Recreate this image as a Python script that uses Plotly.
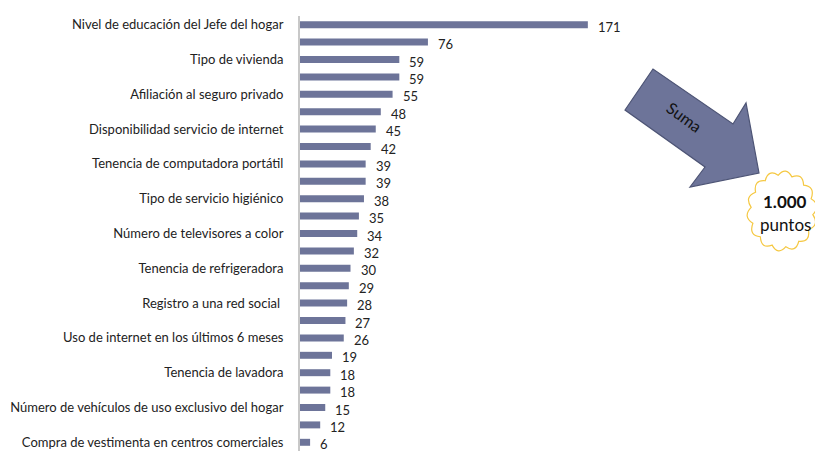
import math
import plotly.graph_objects as go

# Puntaje de cada variable (suman 1.000 puntos)
valores = [171, 76, 59, 59, 55, 48, 45, 42, 39, 39, 38, 35, 34, 32, 30,
           29, 28, 27, 26, 19, 18, 18, 15, 12, 6]

# Etiquetas del eje: sólo una de cada dos barras lleva nombre
etiquetas = [
    "Nivel de educación del Jefe del hogar", "",
    "Tipo de vivienda", "",
    "Afiliación al seguro privado", "",
    "Disponibilidad servicio de internet", "",
    "Tenencia de computadora portátil", "",
    "Tipo de servicio higiénico", "",
    "Número de televisores a color", "",
    "Tenencia de refrigeradora", "",
    "Registro a una red social ", "",
    "Uso de internet en los últimos 6 meses", "",
    "Tenencia de lavadora", "",
    "Número de vehículos de uso exclusivo del hogar", "",
    "Compra de vestimenta en centros comerciales",
]

total_texto = "1.000"
total_unidad = "puntos"
flecha_texto = "Suma"

W, H = 815, 451
ML, MR, MT, MB = 300, 10, 16, 0
PW, PH = W - ML - MR, H - MT - MB

BAR = "#6d7499"
FONT = "Lato"


def px(x, y):
    """Pixel position on the page -> paper coordinates."""
    return (x - ML) / PW, 1 - (y - MT) / PH


pos = list(range(len(valores)))

fig = go.Figure()
fig.add_trace(go.Bar(
    x=valores, y=pos, orientation="h",
    marker=dict(color=BAR, line=dict(width=0)),
    width=0.4, hoverinfo="skip",
))

# Valor al final de cada barra
for v, p in zip(valores, pos):
    fig.add_annotation(
        x=v, y=p, text=str(v), showarrow=False,
        xanchor="left", yanchor="middle", xshift=8, yshift=-2,
        font=dict(family=FONT, size=13, color="#222222"),
    )

# Flecha "Suma"
flecha = [(625, 110), (653, 69), (733, 124), (746, 103),
          (759, 173), (690, 187), (705, 167)]
path = "M " + " L ".join("{:.4f},{:.4f}".format(*px(x, y)) for x, y in flecha) + " Z"
fig.add_shape(type="path", path=path, xref="paper", yref="paper",
              fillcolor=BAR, line=dict(color="#4d5475", width=1.2), layer="above")
sx, sy = px(684, 117)
fig.add_annotation(x=sx, y=sy, xref="paper", yref="paper", text=flecha_texto,
                   showarrow=False, textangle=36,
                   xanchor="center", yanchor="middle",
                   font=dict(family=FONT, size=16, color="#111111"))

# Nube con el total
cx, cy, rx, ry = 782, 211, 31, 36
n = 14
pts = []
for k in range(n + 1):
    t = 2 * math.pi * k / n + 0.1
    pts.append((cx + rx * math.cos(t), cy + ry * math.sin(t)))
d = "M {:.4f},{:.4f}".format(*px(*pts[0]))
for k in range(n):
    tm = 2 * math.pi * (k + 0.5) / n + 0.1
    c = (cx + (rx + 9) * math.cos(tm), cy + (ry + 9) * math.sin(tm))
    d += " Q {:.4f},{:.4f} {:.4f},{:.4f}".format(*px(*c), *px(*pts[k + 1]))
d += " Z"
fig.add_shape(type="path", path=d, xref="paper", yref="paper",
              fillcolor="white", line=dict(color="#f5c842", width=1.2), layer="above")
tx, ty = px(785, 201)
fig.add_annotation(x=tx, y=ty, xref="paper", yref="paper",
                   text="<b>" + total_texto + "</b>", showarrow=False,
                   xanchor="center", yanchor="middle",
                   font=dict(family=FONT, size=17, color="#111111"))
tx, ty = px(785, 225)
fig.add_annotation(x=tx, y=ty, xref="paper", yref="paper", text=total_unidad,
                   showarrow=False, xanchor="center", yanchor="middle",
                   font=dict(family=FONT, size=17, color="#111111"))

fig.update_layout(
    width=W, height=H,
    margin=dict(l=ML, r=MR, t=MT, b=MB, pad=0),
    paper_bgcolor="white", plot_bgcolor="white",
    showlegend=False,
    xaxis=dict(range=[0, 300], visible=False, fixedrange=True),
    yaxis=dict(
        range=[len(valores) - 0.5, -0.5],
        tickmode="array", tickvals=pos, ticktext=etiquetas,
        showgrid=False, zeroline=False,
        showline=True, linecolor="#c8c8c8", linewidth=2,
        ticks="", ticklabelstandoff=12,
        tickfont=dict(family=FONT, size=13, color="#222222"),
        fixedrange=True,
    ),
)

fig.write_html("out.html")
